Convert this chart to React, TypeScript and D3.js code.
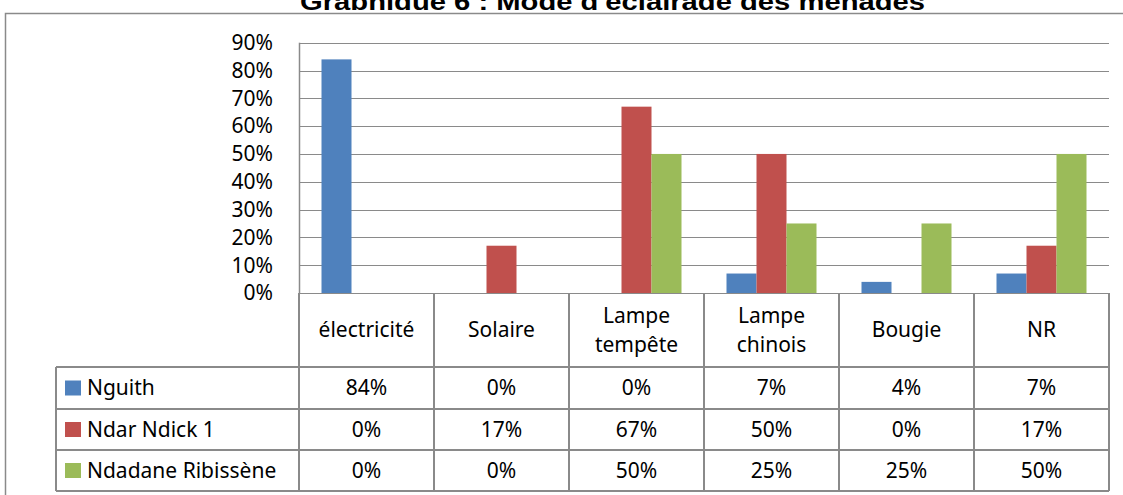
import { useEffect, useRef } from "react";
import * as d3 from "d3";

const categories = [["électricité"], ["Solaire"], ["Lampe", "tempête"], ["Lampe", "chinois"], ["Bougie"], ["NR"]];
const seriesNames = ["Nguith", "Ndar Ndick 1", "Ndadane Ribissène"];
const seriesColors = ["#4F81BD", "#C0504D", "#9BBB59"];
const nguith = [84, 0, 0, 7, 4, 7];
const ndarNdick = [0, 17, 67, 50, 0, 17];
const ndadane = [0, 0, 50, 25, 25, 50];
const yTicks = [0, 10, 20, 30, 40, 50, 60, 70, 80, 90];
const title = "Graphique 6 : Mode d'éclairage des ménages";

const W = 1123;
const H = 495;
const FONT = "'Noto Sans', sans-serif";

const App = () => {
    const svgRef = useRef(null);

    useEffect(() => {
        document.body.style.margin = "0";
        const svg = d3.select(svgRef.current);
        svg.selectAll("*").remove();

        const values = [nguith, ndarNdick, ndadane];
        const left = 299, right = 1109, top = 42.7, zero = 293;
        const rowY = [293, 367, 409, 450, 491];
        const tableLeft = 56;
        const grid = "#8a8a8a";

        svg.append("rect").attr("width", W).attr("height", H).attr("fill", "white");

        // title, cropped at its top like the source
        svg.append("clipPath").attr("id", "titleClip")
            .append("rect").attr("x", 0).attr("y", 0).attr("width", W).attr("height", 10);
        svg.append("text")
            .attr("clip-path", "url(#titleClip)")
            .attr("x", 300).attr("y", 10)
            .attr("textLength", 625).attr("lengthAdjust", "spacingAndGlyphs")
            .style("font-family", "'Liberation Sans', Arial, sans-serif")
            .style("font-weight", "bold").style("font-size", "24px")
            .text(title);

        // outer chart frame
        svg.append("rect")
            .attr("x", 5.5).attr("y", 13.5).attr("width", W + 10).attr("height", H)
            .attr("fill", "none").attr("stroke", grid).attr("stroke-width", 1.5);

        const y = d3.scaleLinear().domain([0, 90]).range([zero, top]);
        const x = d3.scaleBand().domain(categories.map((_, i) => String(i))).range([left, right]);
        const xs = d3.scaleBand().domain(seriesNames).range([22.5, x.bandwidth() - 22.5]);

        // gridlines
        svg.append("g").selectAll("line").data(yTicks).join("line")
            .attr("x1", left).attr("x2", right)
            .attr("y1", d => Math.round(y(d)) + 0.5).attr("y2", d => Math.round(y(d)) + 0.5)
            .attr("stroke", grid).attr("stroke-width", 1.2);
        svg.append("line")
            .attr("x1", left + 0.5).attr("x2", left + 0.5).attr("y1", top).attr("y2", zero)
            .attr("stroke", grid).attr("stroke-width", 1.5);

        svg.append("g").selectAll("text").data(yTicks).join("text")
            .attr("x", 273).attr("y", d => y(d)).attr("dy", "0.35em")
            .attr("text-anchor", "end")
            .style("font-family", FONT).style("font-size", "21px")
            .text(d => `${d}%`);

        // bars
        seriesNames.forEach((name, s) => {
            svg.append("g").selectAll("rect").data(values[s]).join("rect")
                .attr("x", (d, i) => x(String(i)) + xs(name))
                .attr("y", d => y(d))
                .attr("width", xs.bandwidth())
                .attr("height", d => zero - y(d))
                .attr("fill", seriesColors[s]);
        });

        // data table
        const table = svg.append("g").attr("stroke", grid).attr("stroke-width", 2);
        d3.range(categories.length + 1).forEach(i => {
            const xx = i < categories.length ? x(String(i)) : right;
            table.append("line").attr("x1", xx).attr("x2", xx).attr("y1", rowY[0]).attr("y2", rowY[4]);
        });
        table.append("line").attr("x1", tableLeft).attr("x2", tableLeft).attr("y1", rowY[1]).attr("y2", rowY[4]);
        rowY.slice(1).forEach(ry => {
            table.append("line").attr("x1", tableLeft).attr("x2", right).attr("y1", ry).attr("y2", ry);
        });

        const txt = svg.append("g").style("font-family", FONT).style("font-size", "21px").attr("fill", "black");
        categories.forEach((lines, i) => {
            const cx = x(String(i)) + x.bandwidth() / 2;
            const cy = (rowY[0] + rowY[1]) / 2;
            lines.forEach((l, j) => {
                txt.append("text")
                    .attr("x", cx).attr("y", cy + (j - (lines.length - 1) / 2) * 29)
                    .attr("dy", "0.35em").attr("text-anchor", "middle").text(l);
            });
        });

        seriesNames.forEach((name, s) => {
            const cy = (rowY[s + 1] + rowY[s + 2]) / 2;
            svg.append("rect")
                .attr("x", 65).attr("y", cy - 7.5).attr("width", 16).attr("height", 15)
                .attr("fill", seriesColors[s]);
            txt.append("text").attr("x", 87).attr("y", cy).attr("dy", "0.35em").text(name);
            values[s].forEach((v, i) => {
                txt.append("text")
                    .attr("x", x(String(i)) + x.bandwidth() / 2).attr("y", cy)
                    .attr("dy", "0.35em").attr("text-anchor", "middle").text(`${v}%`);
            });
        });
    }, []);

    return <svg ref={svgRef} width={W} height={H} style={{ display: "block" }}></svg>;
};

export default App;
